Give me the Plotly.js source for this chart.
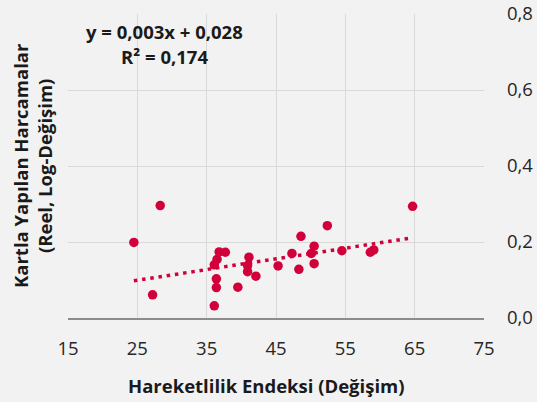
<!DOCTYPE html>
<html>
<head>
<meta charset="utf-8">
<script src="https://cdn.plot.ly/plotly-3.0.1.min.js"></script>
<style>html,body{margin:0;padding:0;background:#f2f2f2;}</style>
</head>
<body>
<div id="chart" style="width:537px;height:402px;"></div>
<script>
// Mobility index change (x) vs real card spending log-change (y)
const mobility = [24.5, 28.3, 27.2, 36.1, 36.4, 36.4, 36.1, 36.5, 36.8, 37.7, 39.5, 41.1, 40.9, 40.9, 42.1, 45.3, 47.3, 48.3, 48.6, 50.1, 50.5, 50.5, 52.4, 54.5, 58.6, 59.1, 64.7];
const spending = [0.199, 0.296, 0.061, 0.032, 0.080, 0.103, 0.140, 0.154, 0.174, 0.173, 0.081, 0.160, 0.138, 0.122, 0.110, 0.137, 0.170, 0.128, 0.215, 0.170, 0.189, 0.143, 0.243, 0.177, 0.173, 0.179, 0.294];
// linear trend line endpoints
const trendX = [24.5, 64.7];
const trendY = [0.098, 0.211];
const xTicks = [15, 25, 35, 45, 55, 65, 75];
const yTicks = [0, 0.2, 0.4, 0.6, 0.8];
const yTickLabels = ["0,0", "0,2", "0,4", "0,6", "0,8"];
const equationLine = "y = 0,003x + 0,028";
const r2Line = "R² = 0,174";
const xTitle = "Hareketlilik Endeksi (Değişim)";
const yTitle = "Kartla Yapılan Harcamalar<br>(Reel, Log-Değişim)";

const red = "#d2003a";
const font = "'Open Sans', 'Noto Sans', sans-serif";

const traces = [
  {x: trendX, y: trendY, type: "scatter", mode: "lines",
   line: {color: red, width: 3.5, dash: "3.5px,4.8px"}, hoverinfo: "skip"},
  {x: mobility, y: spending, type: "scatter", mode: "markers",
   marker: {color: red, size: 9.5}}
];

const layout = {
  width: 537, height: 402,
  margin: {l: 68, r: 53, t: 14, b: 84},
  paper_bgcolor: "#f2f2f2", plot_bgcolor: "#f2f2f2",
  showlegend: false,
  font: {family: font, color: "#262626"},
  xaxis: {range: [15, 75], tickvals: xTicks, ticktext: xTicks.map(String),
          showgrid: true, gridcolor: "#d9d9d9", gridwidth: 1,
          showline: true, linecolor: "#8c8c8c", linewidth: 1.5,
          zeroline: false, ticks: "", ticklabelstandoff: 13,
          tickfont: {size: 18.5, color: "#262626", family: font}},
  yaxis: {range: [0, 0.8], side: "right", tickvals: yTicks, ticktext: yTickLabels,
          showgrid: true, gridcolor: "#d9d9d9", gridwidth: 1,
          showline: false, zeroline: false, ticks: "", ticklabelstandoff: 22,
          tickfont: {size: 18.5, color: "#262626", family: font}},
  annotations: [
    {xref: "paper", yref: "paper", x: (164.5 - 68) / 416, y: (318 - 31) / 304,
     text: "<b>" + equationLine + "</b>", showarrow: false, xanchor: "center", yanchor: "middle",
     font: {size: 18.5, color: "#1a1a1a", family: font}},
    {xref: "paper", yref: "paper", x: (164.5 - 68) / 416, y: (318 - 56) / 304,
     text: "<b>" + r2Line + "</b>", showarrow: false, xanchor: "center", yanchor: "middle",
     font: {size: 18.5, color: "#1a1a1a", family: font}},
    {xref: "paper", yref: "paper", x: (266 - 68) / 416, y: (318 - 385) / 304,
     text: "<b>" + xTitle + "</b>", showarrow: false, xanchor: "center", yanchor: "middle",
     font: {size: 18.5, color: "#1a1a1a", family: font}},
    {xref: "paper", yref: "paper", x: (32 - 68) / 416, y: (318 - 166) / 304,
     text: "<b>" + yTitle + "</b>", showarrow: false, xanchor: "center", yanchor: "middle",
     textangle: -90, font: {size: 18.5, color: "#1a1a1a", family: font}}
  ]
};

Plotly.newPlot("chart", traces, layout, {displayModeBar: false, staticPlot: true});
</script>
</body>
</html>
